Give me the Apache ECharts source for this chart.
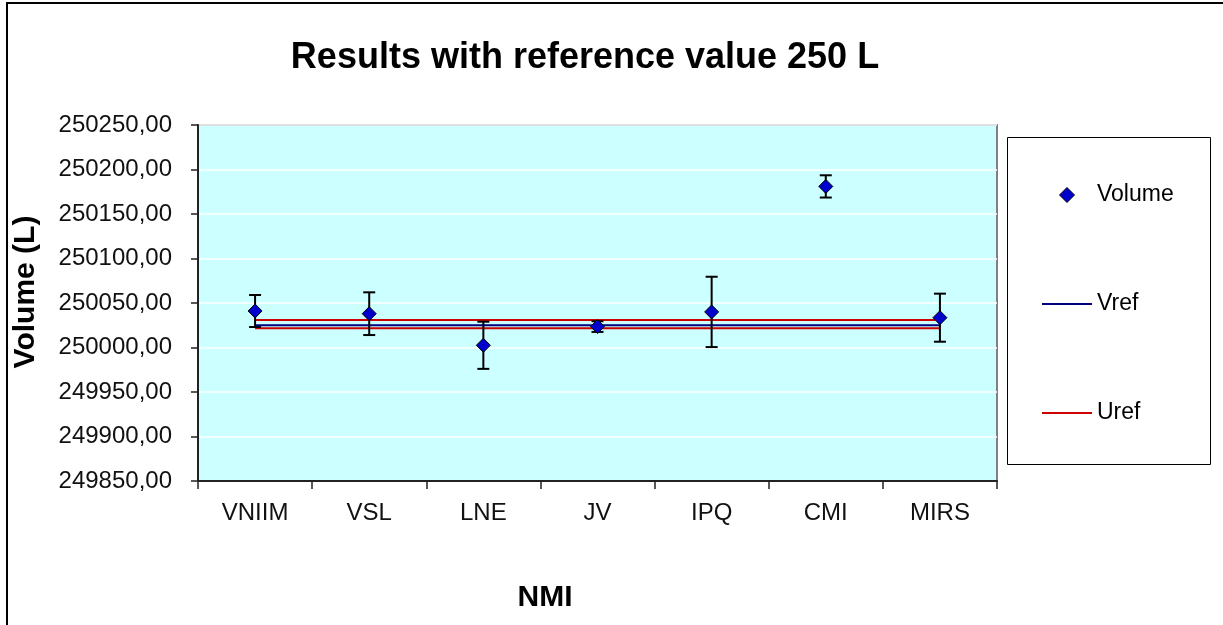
<!DOCTYPE html>
<html>
<head>
<meta charset="utf-8">
<script src="https://cdn.jsdelivr.net/npm/echarts@6/dist/echarts.min.js"></script>
<style>
html,body{margin:0;padding:0;background:#fff;}
#chart{width:1223px;height:625px;}
</style>
</head>
<body>
<div id="chart"></div>
<script>
const categories = ['VNIIM', 'VSL', 'LNE', 'JV', 'IPQ', 'CMI', 'MIRS'];
const volumes = [250041, 250038, 250002.5, 250023.5, 250040, 250181, 250033.5];
const uncertainties = [18, 24, 26.5, 6, 39.5, 12.5, 27];
const vrefLine = [250025, 250025, 250025, 250025, 250025, 250025, 250025];
const urefUpper = [250031, 250031, 250031, 250031, 250031, 250031, 250031];
const urefLower = [250021.5, 250021.5, 250021.5, 250021.5, 250021.5, 250021.5, 250021.5];
const yTicks = { min: 249850, max: 250250, step: 50 };

const FONT = "'Liberation Sans', Arial, sans-serif";
const errData = categories.map((c, i) => [i, volumes[i] - uncertainties[i], volumes[i] + uncertainties[i]]);

const DIAMOND_ICON = 'path://M5,0L10,5L5,10L0,5Z';
const LINE_ICON = 'path://M0,0L50,0L50,2L0,2Z';

const chart = echarts.init(document.getElementById('chart'), null, { renderer: 'canvas' });
chart.setOption({
  animation: false,
  backgroundColor: '#ffffff',
  title: {
    text: 'Results with reference value 250 L',
    left: 580, textAlign: 'center', top: 35,
    textStyle: { fontFamily: FONT, fontSize: 36, fontWeight: 'bold', color: '#000' }
  },
  graphic: [
    { type: 'rect', shape: { x: 7, y: 3, width: 1300, height: 700 }, style: { fill: 'none', stroke: '#000', lineWidth: 2 }, silent: true, z: 100 },
    { type: 'rect', shape: { x: 1007.5, y: 137.5, width: 203, height: 327 }, style: { fill: '#fff', stroke: '#000', lineWidth: 1 }, silent: true, z: -1 }
  ],
  legend: {
    orient: 'vertical',
    left: 1037, top: 178,
    itemWidth: 50, itemHeight: 15, itemGap: 85,
    symbolKeepAspect: true,
    data: [
      { name: 'Volume', icon: DIAMOND_ICON, symbolKeepAspect: true, itemStyle: { color: '#0000cc', borderColor: '#000', borderWidth: 1, opacity: 1 } },
      { name: 'Vref', icon: LINE_ICON, symbolKeepAspect: true, itemStyle: { color: '#000080', borderWidth: 0 } },
      { name: 'Uref', icon: LINE_ICON, symbolKeepAspect: true, itemStyle: { color: '#cc0000', borderWidth: 0 } }
    ],
    textStyle: { fontFamily: FONT, fontSize: 23, lineHeight: 24, color: '#000' },
    z: 10
  },
  grid: {
    left: 198, top: 125, right: 226, bottom: 144,
    outerBoundsMode: 'none', containLabel: false,
    show: true, backgroundColor: '#ccffff', borderColor: '#808080', borderWidth: 2
  },
  xAxis: {
    type: 'category',
    data: categories,
    boundaryGap: true,
    name: 'NMI', nameLocation: 'middle', nameGap: 102,
    nameTextStyle: { fontFamily: FONT, fontSize: 30, fontWeight: 'bold', color: '#000', padding: [0, 105, 0, 0] },
    axisLine: { lineStyle: { color: '#222', width: 2 } },
    axisTick: { show: true, length: 8, alignWithLabel: false, lineStyle: { color: '#222', width: 1.5 } },
    axisLabel: { fontFamily: FONT, fontSize: 24, color: '#111', margin: 20 },
    splitLine: { show: false }
  },
  yAxis: {
    type: 'value',
    min: yTicks.min, max: yTicks.max, interval: yTicks.step,
    name: 'Volume (L)', nameLocation: 'middle', nameGap: 157, nameRotate: 90,
    nameTextStyle: { fontFamily: FONT, fontSize: 30, fontWeight: 'bold', color: '#000', padding: [0, 0, 0, 22] },
    axisLine: { show: true, lineStyle: { color: '#222', width: 2 } },
    axisTick: { show: true, length: 7, lineStyle: { color: '#222', width: 1.5 } },
    axisLabel: {
      fontFamily: FONT, fontSize: 24, color: '#111', margin: 26,
      formatter: v => v.toFixed(2).replace('.', ',')
    },
    splitLine: { show: true, lineStyle: { color: '#ffffff', width: 1.5 } }
  },
  series: [
    { name: 'Uref', type: 'line', data: urefUpper, symbol: 'none', lineStyle: { color: '#cc0000', width: 2 }, itemStyle: { color: '#cc0000' }, z: 2 },
    { name: 'Uref', type: 'line', data: urefLower, symbol: 'none', lineStyle: { color: '#cc0000', width: 2 }, itemStyle: { color: '#cc0000' }, z: 2 },
    { name: 'Vref', type: 'line', data: vrefLine, symbol: 'none', lineStyle: { color: '#000080', width: 2 }, itemStyle: { color: '#000080' }, z: 3 },
    {
      name: 'err', type: 'custom', data: errData, z: 4,
      renderItem: (params, api) => {
        const x = api.value(0);
        const lo = api.coord([x, api.value(1)]);
        const hi = api.coord([x, api.value(2)]);
        const hw = 6;
        const st = { stroke: '#000', lineWidth: 2, fill: 'none' };
        return {
          type: 'group',
          children: [
            { type: 'line', shape: { x1: lo[0], y1: lo[1], x2: hi[0], y2: hi[1] }, style: st },
            { type: 'line', shape: { x1: lo[0] - hw, y1: lo[1], x2: lo[0] + hw, y2: lo[1] }, style: st },
            { type: 'line', shape: { x1: hi[0] - hw, y1: hi[1], x2: hi[0] + hw, y2: hi[1] }, style: st }
          ]
        };
      }
    },
    {
      name: 'Volume', type: 'scatter', data: volumes, symbol: 'diamond', symbolSize: 14, z: 5,
      itemStyle: { color: '#0000cc', borderColor: '#000', borderWidth: 1, opacity: 1 }
    }
  ]
});
</script>
</body>
</html>
